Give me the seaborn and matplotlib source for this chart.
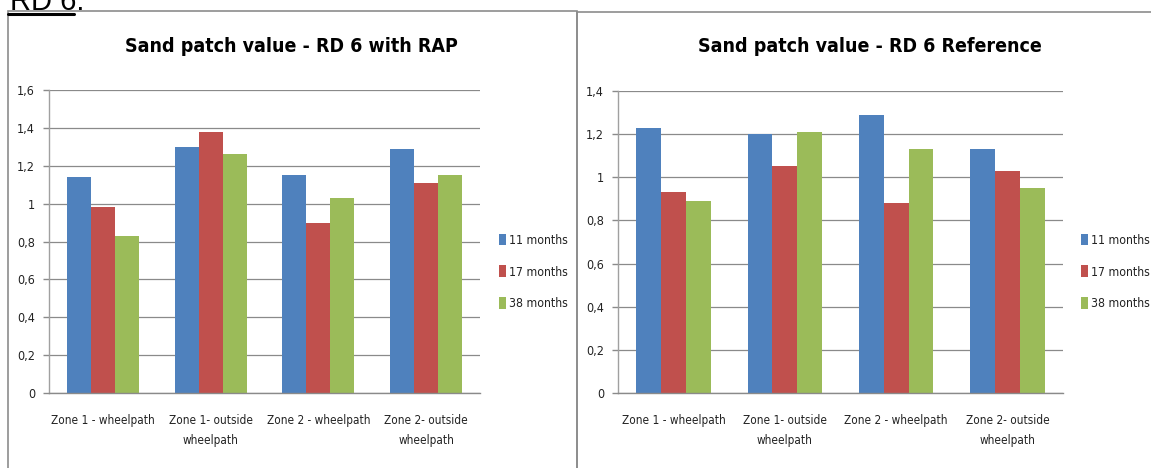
import matplotlib
matplotlib.use("Agg")
import matplotlib.pyplot as plt
import matplotlib.ticker as mticker
from matplotlib.patches import Rectangle, Patch
from matplotlib.lines import Line2D
import seaborn as sns
import pandas as pd

# ---- data ----
zones = ["Zone 1 - wheelpath", "Zone 1- outside\nwheelpath",
         "Zone 2 - wheelpath", "Zone 2- outside\nwheelpath"]
periods = ["11 months", "17 months", "38 months"]

rap_11 = [1.14, 1.30, 1.15, 1.29]
rap_17 = [0.98, 1.38, 0.90, 1.11]
rap_38 = [0.83, 1.26, 1.03, 1.15]

ref_11 = [1.23, 1.20, 1.29, 1.13]
ref_17 = [0.93, 1.05, 0.88, 1.03]
ref_38 = [0.89, 1.21, 1.13, 0.95]

rap_ticks = [0, 0.2, 0.4, 0.6, 0.8, 1.0, 1.2, 1.4, 1.6]
ref_ticks = [0, 0.2, 0.4, 0.6, 0.8, 1.0, 1.2, 1.4]

titles = ["Sand patch value - RD 6 with RAP", "Sand patch value - RD 6 Reference"]
colors = ["#4F81BD", "#C0504D", "#9BBB59"]


def long_frame(s11, s17, s38):
    rows = []
    for series, label in zip([s11, s17, s38], periods):
        for z, v in zip(zones, series):
            rows.append({"zone": z, "period": label, "value": v})
    return pd.DataFrame(rows)


sns.set_theme(style="white")
plt.rcParams["font.family"] = ["DejaVu Sans"]
plt.rcParams["font.stretch"] = "condensed"

fig = plt.figure(figsize=(11.51, 4.68), dpi=100)
W, H = 1151, 468


def fx(px):
    return px / W


def fy(py):
    return 1 - py / H


# heading above the two panels (cut by the top edge)
fig.text(fx(10), fy(10), "RD 6.", fontsize=21, family=["Liberation Sans", "DejaVu Sans"],
         fontstretch="normal", color="black", va="baseline", ha="left")
fig.add_artist(Line2D([fx(8), fx(74)], [fy(13.5), fy(13.5)], color="black", lw=2.2))

# panel frames
fig.add_artist(Rectangle((fx(8), fy(475)), fx(577 - 8), (475 - 11) / H,
                         fill=False, edgecolor="#8c8c8c", lw=1.2))
fig.add_artist(Rectangle((fx(577), fy(475)), fx(1160 - 577), (475 - 12) / H,
                         fill=False, edgecolor="#8c8c8c", lw=1.2))

panels = [
    dict(rect=[fx(49), fy(393), fx(480 - 49), (393 - 90) / H],
         data=long_frame(rap_11, rap_17, rap_38), ticks=rap_ticks,
         title=titles[0], title_x=fx(291), legend_x=fx(488)),
    dict(rect=[fx(618), fy(393), fx(1063 - 618), (393 - 91) / H],
         data=long_frame(ref_11, ref_17, ref_38), ticks=ref_ticks,
         title=titles[1], title_x=fx(870), legend_x=fx(1070)),
]

for p in panels:
    ax = fig.add_axes(p["rect"])
    sns.barplot(data=p["data"], x="zone", y="value", hue="period",
                hue_order=periods, order=zones, palette=colors,
                width=0.67, saturation=1, ax=ax, legend=False,
                linewidth=0, errorbar=None)
    ax.set_ylim(0, p["ticks"][-1])
    ax.set_xlim(-0.5, 3.5)
    ax.set_yticks(p["ticks"])
    ax.yaxis.set_major_formatter(
        mticker.FuncFormatter(lambda v, _: f"{v:g}".replace(".", ",")))
    ax.grid(axis="y", color="#8a8a8a", lw=0.9)
    ax.set_axisbelow(True)
    for side in ["top", "right"]:
        ax.spines[side].set_visible(False)
    ax.spines["left"].set_color("#a0a0a0")
    ax.spines["bottom"].set_color("#8a8a8a")
    ax.spines["left"].set_linewidth(1.0)
    ax.spines["bottom"].set_linewidth(1.0)
    ax.tick_params(axis="y", length=4, width=1, color="#8a8a8a", pad=6,
                   labelsize=9, labelcolor="#222222", left=True)
    ax.tick_params(axis="x", length=0, pad=15, labelsize=8.5, labelcolor="#222222")
    for lbl in ax.get_xticklabels():
        lbl.set_linespacing(1.75)
    ax.set_xlabel("")
    ax.set_ylabel("")

    fig.text(p["title_x"], fy(46), p["title"], ha="center", va="center",
             fontsize=14, fontweight="bold", color="black")

    handles = [Patch(facecolor=c, edgecolor="none") for c in colors]
    fig.legend(handles, periods, loc="center left",
               bbox_to_anchor=(p["legend_x"], fy(272)), frameon=False,
               handlelength=0.55, handleheight=1.1, handletextpad=0.3,
               labelspacing=1.55, fontsize=8.8, labelcolor="#222222")

fig.savefig("out.png", dpi=100, facecolor="white")
